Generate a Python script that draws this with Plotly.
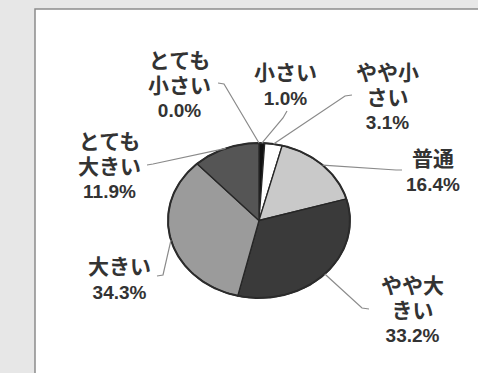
import numpy as np
import plotly.graph_objects as go

# Survey answers, clockwise from 12 o'clock
categories = ["とても小さい", "小さい", "やや小さい", "普通", "やや大きい", "大きい", "とても大きい"]
shares = [0.0, 1.0, 3.1, 16.4, 33.2, 34.3, 11.9]
label_lines = [["とても", "小さい"], ["小さい"], ["やや小", "さい"], ["普通"],
               ["やや大", "きい"], ["大きい"], ["とても", "大きい"]]

# Styling
slice_colors = ["#111111", "#111111", "#ffffff", "#c9c9c9", "#3a3a3a", "#9b9b9b", "#555555"]
W, H = 478, 373
CX, CY, RX, RY = 259, 220.5, 91, 77.5          # elliptical pie (pixel space)
# label block centre and the two leader points nearest the text
label_pos = [(179, 85), (285, 85), (387, 97), (433, 171), (412, 310), (119, 279), (109, 166)]
leader_pts = [[(218, 83), (224, 84)], [(287, 111), (283, 118)], [(352, 95), (345, 96)],
              [(402, 170), (396, 170)], [(369, 309), (362, 308)], [(157, 276), (163, 275)],
              [(147, 165), (153, 164)]]

total = sum(shares)


def edge(frac):
    a = 2 * np.pi * frac
    return CX + RX * np.sin(a), CY - RY * np.cos(a)


fig = go.Figure()
start = 0.0
mids = []
for name, val, col in zip(categories, shares, slice_colors):
    frac0, frac1 = start / total, (start + val) / total
    mids.append((frac0 + frac1) / 2)
    start += val
    if val <= 0:
        continue
    t = np.linspace(frac0, frac1, max(4, int(360 * (frac1 - frac0))))
    xs, ys = edge(t)
    fig.add_trace(go.Scatter(
        x=np.concatenate([[CX], xs, [CX]]), y=np.concatenate([[CY], ys, [CY]]),
        mode="lines", fill="toself", fillcolor=col,
        line=dict(color="#262626", width=1.3), hoverinfo="skip", showlegend=False))

# outer rim of the pie
t = np.linspace(0, 1, 361)
xs, ys = edge(t)
fig.add_trace(go.Scatter(x=xs, y=ys, mode="lines", line=dict(color="#2b2b2b", width=2),
                         hoverinfo="skip", showlegend=False))

# leader lines from each slice to its label
for m, pts in zip(mids, leader_pts):
    ax, ay = edge(m)
    fig.add_trace(go.Scatter(x=[pts[0][0], pts[1][0], ax], y=[pts[0][1], pts[1][1], ay],
                             mode="lines", line=dict(color="#8a8a8a", width=1.2),
                             hoverinfo="skip", showlegend=False))

annotations = []
for lines, val, (lx, ly) in zip(label_lines, shares, label_pos):
    jp = [f"<span style='font-size:21px'>{s}</span>" for s in lines]
    text = "<br>".join(jp + [f"{val:.1f}%"])
    annotations.append(dict(x=lx, y=ly, xref="x", yref="y", text=f"<b>{text}</b>",
                            showarrow=False, align="center", xanchor="center", yanchor="middle",
                            font=dict(family="Liberation Sans, Noto Sans CJK JP", size=19,
                                      color="#333333")))

fig.update_layout(
    width=W, height=H, margin=dict(l=0, r=0, t=0, b=0),
    paper_bgcolor="#e7e7e7", plot_bgcolor="rgba(0,0,0,0)",
    xaxis=dict(range=[0, W], visible=False, fixedrange=True),
    yaxis=dict(range=[H, 0], visible=False, fixedrange=True),
    annotations=annotations,
    shapes=[dict(type="rect", xref="x", yref="y", x0=35, y0=9, x1=W + 5, y1=H + 5,
                 fillcolor="#ffffff", line=dict(color="#8c8c8c", width=1.5), layer="below")],
)

fig.write_html("out.html")
